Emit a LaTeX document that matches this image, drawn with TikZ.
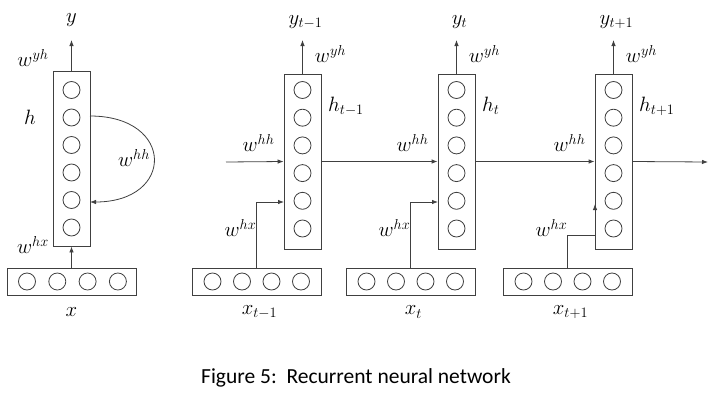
\documentclass[tikz,border=0pt]{standalone}
\usepackage{fontspec}
\newfontfamily\capfont{Carlito}
\usetikzlibrary{calc,arrows.meta}
\tikzset{
  layer/.style={draw, rectangle, minimum width=37pt, minimum height=175pt, inner sep=0pt},
  inlayer/.style={draw, rectangle, minimum width=129pt, minimum height=27pt, inner sep=0pt},
  unit/.style={draw, circle, minimum size=17pt, inner sep=0pt},
  lbl/.style={font=\fontsize{21}{21}\selectfont},
  link/.style={-{Latex[length=6pt,width=4.5pt]}}
}
\begin{document}
\begin{tikzpicture}[x=1pt,y=-1pt,line width=0.8pt,draw=black!75]
  \useasboundingbox (0,0) rectangle (713,402);
  % folded network
  \node[layer] (h) at (71.5,158.5) {};
  \foreach \i in {0,...,5}
    \node[unit] at (71.5,90+27.5*\i) {};
  \node[inlayer] (x) at (71.5,281.5) {};
  \foreach \j in {0,...,3}
    \node[unit] at (27+30.3*\j,281.5) {};
  \coordinate (y) at (71.5,40);
  \draw[link] (h.north) -- (y);
  \draw[link] (x.north) -- (h.south);
  \draw[link] (90,116) .. controls (175,116) and (175,202) .. (90,202);
  \node[lbl] at (71.5,20) {$y$};
  \node[lbl] at (33,58) {$w^{yh}$};
  \node[lbl] at (30,117) {$h$};
  \node[lbl] at (134,158) {$w^{hh}$};
  \node[lbl] at (33,245) {$w^{hx}$};
  \node[lbl] at (71.5,312) {$x$};
  % unrolled network
  \foreach \n/\hx/\xx/\t in {a/302.5/256.5/{t-1},b/456.5/410.5/t,c/613.5/567.5/{t+1}}{
    \node[layer] (h\n) at (\hx,161.5) {};
    \foreach \i in {0,...,5}
      \node[unit] at (\hx,90+27.7*\i) {};
    \node[inlayer] (x\n) at (\xx,281.5) {};
    \foreach \j in {0,...,3}
      \node[unit] at (\xx-44+29.5*\j,281.5) {};
    \coordinate (y\n) at (\hx,40);
    \draw[link] (h\n.north) -- (y\n);
    \node[lbl] at (\hx+3,22) {$y_{\t}$};
    \node[lbl] at (\hx+28,54) {$w^{yh}$};
    \node[lbl, anchor=west] at (\hx+22,106) {$h_{\t}$};
    \node[lbl] at (\hx-44,143) {$w^{hh}$};
    \node[lbl] at (\hx-62,228) {$w^{hx}$};
    \node[lbl] at (\xx+3,312) {$x_{\t}$};
  }
  \coordinate (hin) at (226,162);
  \coordinate (hout) at (708,162);
  \draw[link] (hin) -- (ha.west);
  \draw[link] (ha.east) -- (hb.west);
  \draw[link] (hb.east) -- (hc.west);
  \draw[link] (hc.east) -- (hout);
  \draw[link] (xa.north) |- (284,202);
  \draw[link] (xb.north) |- (438,202);
  \draw (xc.north) |- (595,235);
  \draw[link] (595,235) -- (595,204);
  % caption
  \node[font=\capfont\fontsize{21.5}{21.5}\selectfont] (cap) at (356,378) {Figure 5:\ \ Recurrent neural network};
\end{tikzpicture}
\end{document}
